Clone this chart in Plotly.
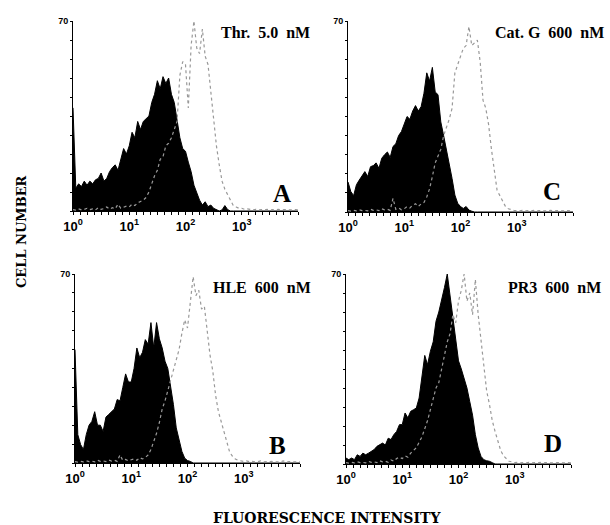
import plotly.graph_objects as go

# Channel grid: 20 channels per decade, from 10^0 to 10^4
LOG_STEP = 0.05
N_CHANNELS = 81
channels = [10 ** (k * LOG_STEP) for k in range(N_CHANNELS)]

# Panel A - Thr. 5.0 nM
a_treated = [38, 8.4, 10, 9, 11, 9.5, 11, 10, 11.5, 12,
             14, 11, 12, 14.5, 16, 17, 15, 19, 23, 21,
             24, 29, 27, 33, 30, 33, 34, 35, 40, 43,
             48, 45, 49.5, 47, 49, 43, 40, 33, 27, 23,
             22, 18, 14.5, 9.5, 6.5, 4, 2.2, 3.4, 1.6, 2.2,
             1, 0.4, 0, 0.4, 2, 0.5, 0, 0, 0, 0,
             0, 0, 0, 0, 0, 0, 0, 0, 0, 0,
             0, 0, 0, 0, 0, 0, 0, 0, 0, 0, 0]
a_control = [0.5, 0.3, 0.8, 0.4, 0.6, 1, 0.5, 0.8, 0.4, 1.2,
             0.6, 0.9, 1.5, 0.7, 1.2, 0.8, 2.5, 1, 1.4, 1.8,
             1.5, 2.5, 2, 3, 3.5, 4, 5, 7, 10, 13,
             15, 19, 20, 24, 25, 27, 30, 33, 50, 55,
             54, 38, 61, 70, 60, 58, 67, 57, 54, 44,
             32, 24, 17, 11, 8, 6, 3.5, 2, 1.5, 1,
             1, 0.6, 0.8, 0.5, 0.4, 0.6, 0.4, 0.5, 0.4, 0.6,
             0.4, 0.5, 0.4, 0.6, 0.4, 0.5, 0.4, 0.5, 0.4, 0.5, 0.4]

# Panel C - Cat. G 600 nM
c_treated = [11, 7.5, 6, 10, 11.7, 13.5, 14.8, 13, 16.6, 17,
             18, 16, 19.7, 21, 22, 20, 24, 25, 28, 29.5,
             32, 35, 34, 37, 39, 37, 38.6, 43.5, 51, 48,
             53, 44, 43, 33, 28, 23, 18.5, 12.3, 6.2, 3.2,
             2, 1.3, 2, 0.7, 0.3, 0, 0, 0, 0, 0,
             0, 0, 0, 0, 0, 0, 0, 0, 0, 0,
             0, 0, 0, 0, 0, 0, 0, 0, 0, 0,
             0, 0, 0, 0, 0, 0, 0, 0, 0, 0, 0]
c_control = [0.5, 0.3, 0.6, 0.4, 0.8, 0.5, 0.6, 0.4, 1, 0.6,
             0.8, 0.5, 1.2, 0.8, 1, 0.6, 5, 1, 1.5, 0.8,
             1.2, 2, 1.5, 2.5, 3, 2, 3, 3.5, 5.5, 8.5,
             13, 18, 20.5, 23, 28, 31, 34, 38, 51, 54,
             57, 60, 61, 68, 61, 62, 63, 55, 41, 38,
             32, 23, 15, 8, 6, 4, 2, 1.2, 0.8, 0.6,
             0.5, 0.4, 0.6, 0.4, 0.5, 0.4, 0.6, 0.4, 0.5, 0.4,
             0.5, 0.4, 0.6, 0.4, 0.5, 0.4, 0.5, 0.4, 0.5, 0.4, 0.4]

# Panel B - HLE 600 nM
b_treated = [42, 10.5, 6.8, 5, 10.5, 14, 15.4, 19, 14, 14,
             11.7, 17, 18, 19, 20, 23.5, 23, 28, 33, 30,
             30, 35, 42.6, 39, 41, 45.7, 44, 52, 42.6, 52,
             46, 42.6, 37.7, 35, 29, 21.6, 13, 8, 4.3, 1.8,
             0.9, 0.6, 0, 0, 0, 0, 0, 0, 0, 0,
             0, 0, 0, 0, 0, 0, 0, 0, 0, 0,
             0, 0, 0, 0, 0, 0, 0, 0, 0, 0,
             0, 0, 0, 0, 0, 0, 0, 0, 0, 0, 0]
b_control = [0.5, 0.3, 0.6, 0.4, 0.8, 0.5, 0.7, 0.4, 1, 0.6,
             0.8, 0.5, 1.1, 0.7, 1, 0.6, 3, 1, 1.3, 0.8,
             1.2, 1.5, 1, 2, 1.5, 2, 3, 5, 8, 11,
             15, 20, 23, 27, 31, 35, 38, 42, 48, 53,
             50, 60, 69, 62, 64, 57, 58, 49, 40, 34,
             25, 19, 15, 12, 7, 4, 2.5, 1.5, 1, 0.8,
             0.6, 0.8, 0.5, 0.6, 0.4, 0.5, 0.8, 0.4, 0.5, 0.4,
             0.6, 0.4, 0.5, 0.4, 0.8, 0.4, 0.5, 0.4, 0.5, 0.4, 0.4]

# Panel D - PR3 600 nM
d_treated = [2.2, 1.6, 2.2, 1.6, 3.4, 2.8, 4, 3.4, 4, 4.7,
             5.3, 6.5, 7, 7.7, 7, 9.5, 9, 10.8, 12, 14.5,
             14.5, 18.8, 17, 19.4, 20, 20.6, 24.3, 31.7, 40, 36.6,
             41.5, 45, 52.6, 56, 60, 65, 70, 62, 54, 44,
             38, 35, 31.7, 28, 23, 18, 10.8, 5.9, 2.8, 1.6,
             1.2, 1, 0.5, 0, 0, 0, 0, 0, 0, 0,
             0, 0, 0, 0, 0, 0, 0, 0, 0, 0,
             0, 0, 0, 0, 0, 0, 0, 0, 0, 0, 0]
d_control = [0.5, 0.3, 0.6, 0.4, 0.8, 0.5, 0.6, 0.4, 1, 0.6,
             0.8, 0.5, 1.2, 0.8, 1, 0.6, 1.5, 1, 2, 2.5,
             2, 3, 2.5, 4, 5, 6, 8, 10, 13, 16,
             20, 24, 28, 30, 35, 40, 45, 48, 55, 52,
             60, 64, 70, 60, 63, 55, 68, 55, 45, 35,
             27, 22, 16, 12, 8, 5, 3, 2, 1, 0.8,
             0.5, 0.6, 0.4, 0.5, 0.4, 0.6, 0.4, 0.5, 0.4, 0.6,
             0.4, 0.5, 0.4, 0.5, 0.4, 0.5, 0.4, 0.5, 0.4, 0.5, 0.4]

PANELS = [
    # (treated, control, title, letter, axis suffix)
    (a_treated, a_control, 'Thr.\u00a0\u00a05.0\u00a0\u00a0nM', 'A', ''),
    (c_treated, c_control, 'Cat.\u00a0G\u00a0\u00a0600\u00a0\u00a0nM', 'C', '2'),
    (b_treated, b_control, 'HLE\u00a0\u00a0600\u00a0\u00a0nM', 'B', '3'),
    (d_treated, d_control, 'PR3\u00a0\u00a0600\u00a0\u00a0nM', 'D', '4'),
]

# Pixel boxes of each plot area (left, right, top, bottom) in the 610x525 page
BOXES = [(73, 298, 21, 211), (348, 573, 21, 212), (75, 300, 274, 463), (346, 571, 274, 464)]
# centre of the condition label and of the panel letter, in pixels
TITLE_POS = [(265, 32), (549, 32), (262, 287), (554, 287)]
LETTER_POS = [(282, 193), (552, 192), (277, 445), (553, 443)]
W, H = 610, 525

SERIF = 'Liberation Serif'
LABEL_SERIF = 'DejaVu Serif'
SANS = 'Liberation Sans'

fig = go.Figure()
layout = {}
annotations = []

x_tickvals = [10 ** (k / 8) for k in range(33)]
x_ticktext = ['10<sup>%d</sup>' % (k // 8) if k % 8 == 0 and k < 32 else '' for k in range(33)]
y_tickvals = list(range(0, 71, 7))
y_ticktext = [''] * 10 + ['70']


def paper_text(x, y, text, font, **kw):
    # annotation centred on a pixel position of the page
    return dict(x=x / W, y=1 - y / H, xref='paper', yref='paper', text=text,
                showarrow=False, xanchor='center', yanchor='middle', font=font, **kw)


for (treated, control, title, letter, sfx), (x0, x1, y0, y1), tpos, lpos in zip(
        PANELS, BOXES, TITLE_POS, LETTER_POS):
    xa, ya = 'x' + sfx, 'y' + sfx
    # filled black histogram
    fig.add_trace(go.Scatter(x=channels, y=treated, xaxis=xa, yaxis=ya, mode='lines',
                             fill='tozeroy', fillcolor='black',
                             line=dict(color='black', width=1), showlegend=False))
    # grey outline histogram on top
    fig.add_trace(go.Scatter(x=channels, y=control, xaxis=xa, yaxis=ya, mode='lines',
                             line=dict(color='#999999', width=1.2, dash='dot'), showlegend=False))

    layout['xaxis' + sfx] = dict(
        domain=[x0 / W, x1 / W], anchor=ya, type='log', range=[0, 4], automargin=False,
        tickvals=x_tickvals, ticktext=x_ticktext, ticks='outside', ticklen=3,
        tickcolor='black', showline=True, linecolor='black', linewidth=1,
        showgrid=False, zeroline=False,
        tickfont=dict(family=SANS, size=13, color='black', weight='bold'))
    layout['yaxis' + sfx] = dict(
        domain=[1 - y1 / H, 1 - y0 / H], anchor=xa, range=[0, 70], automargin=False,
        tickvals=y_tickvals, ticktext=y_ticktext, ticks='outside', ticklen=2,
        tickcolor='black', showline=True, linecolor='black', linewidth=1,
        showgrid=False, zeroline=False,
        tickfont=dict(family=SANS, size=9, color='black', weight='bold'))

    annotations.append(paper_text(tpos[0], tpos[1], title,
                                  dict(family=SERIF, size=16, color='black', weight='bold')))
    annotations.append(paper_text(lpos[0], lpos[1], letter,
                                  dict(family=SERIF, size=25, color='black', weight='bold')))

annotations.append(paper_text(21, 232, 'CELL NUMBER',
                              dict(family=LABEL_SERIF, size=13, color='black', weight='bold'),
                              textangle=-90))
annotations.append(paper_text(327, 518, 'FLUORESCENCE INTENSITY',
                              dict(family=LABEL_SERIF, size=14, color='black', weight='bold')))

fig.update_layout(**layout)
fig.update_layout(
    width=W, height=H,
    margin=dict(l=0, r=0, t=0, b=0),
    paper_bgcolor='white', plot_bgcolor='white',
    annotations=annotations,
)

# drop the browser's default page margin so the figure sits at the window's corner
fig.write_html("out.html", config={'displayModeBar': False},
               post_script="document.body.style.margin = '0';")
